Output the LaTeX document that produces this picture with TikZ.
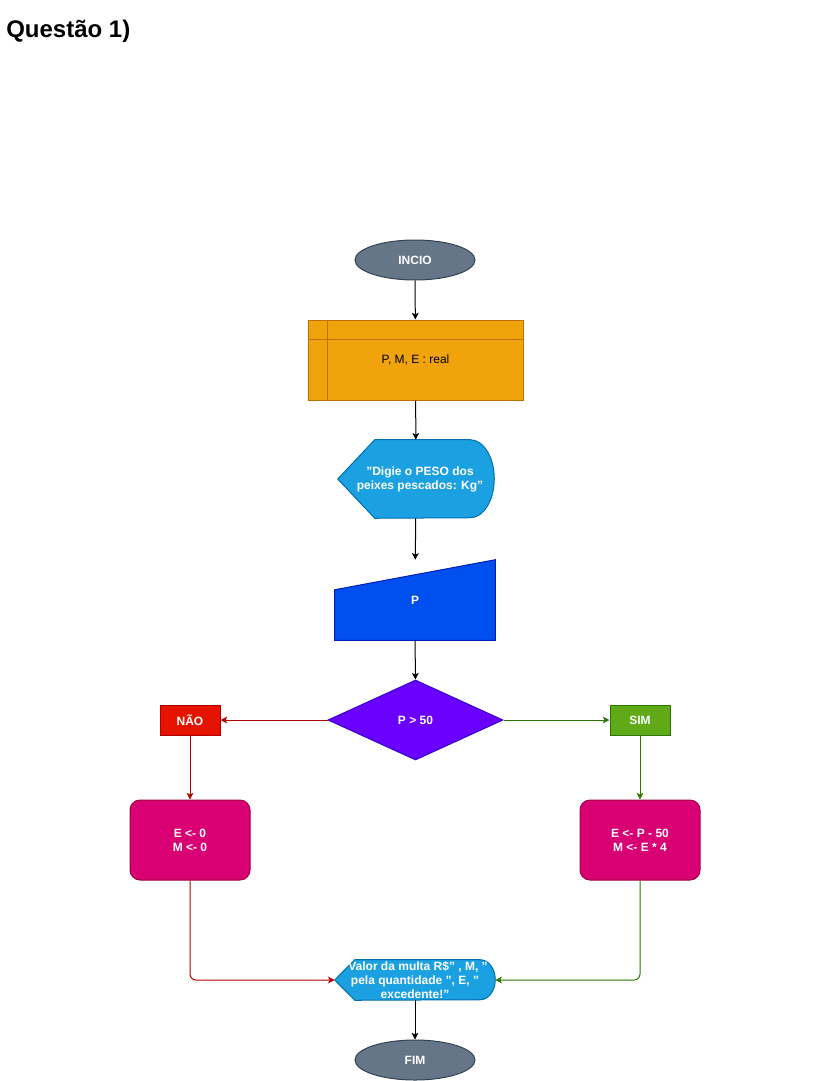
\documentclass[tikz,border=0pt]{standalone}
\usepackage{fontspec}
\setmainfont{Liberation Sans}
\usepackage{xcolor}
\usetikzlibrary{positioning, arrows.meta, shapes.geometric}

\definecolor{termfill}{HTML}{647687}
\definecolor{termline}{HTML}{314354}
\definecolor{declfill}{HTML}{F0A30A}
\definecolor{declline}{HTML}{BD7000}
\definecolor{showfill}{HTML}{1BA1E2}
\definecolor{showline}{HTML}{006EAF}
\definecolor{readfill}{HTML}{0050EF}
\definecolor{readline}{HTML}{001DBC}
\definecolor{testfill}{HTML}{6A00FF}
\definecolor{testline}{HTML}{3700CC}
\definecolor{naofill}{HTML}{E51400}
\definecolor{naoline}{HTML}{B20000}
\definecolor{simfill}{HTML}{60A917}
\definecolor{simline}{HTML}{2D7600}
\definecolor{calcfill}{HTML}{D80073}
\definecolor{calcline}{HTML}{A50040}

\newcommand{\pxu}{0.75pt}

\tikzset{
  lbl/.style={font=\fontsize{9}{10.5}\selectfont\bfseries, text=white, align=center},
  term/.style={ellipse, draw=termline, fill=termfill, line width=\pxu,
    minimum width=120*\pxu, minimum height=40*\pxu, inner sep=0pt, lbl},
  frame/.style={rectangle, minimum width=#1, inner sep=0pt},
  tag/.style={rectangle, line width=\pxu, minimum width=60*\pxu,
    minimum height=30*\pxu, inner sep=0pt, lbl},
  calc/.style={rectangle, rounded corners=10*\pxu, draw=calcline, fill=calcfill,
    line width=\pxu, minimum width=120*\pxu, minimum height=80*\pxu, lbl},
  flow/.style={-{Stealth[length=5pt, width=5pt, inset=1.2pt]}, line width=\pxu}
}

\begin{document}
\begin{tikzpicture}[x=0.75pt, y=-0.75pt]
  \useasboundingbox (0,0) rectangle (821,1081);

  % ── Title ──
  \node[anchor=base west, inner sep=0pt, font=\fontsize{18}{20}\selectfont\bfseries]
    (title) at (6,37.5) {Questão 1)};

  % ── Start ──
  \node[term] (inicio) at (415,260) {INCIO};

  % ── Variables (internal storage) ──
  \node[rectangle, draw=declline, fill=declfill, line width=\pxu,
    minimum width=215*\pxu, minimum height=80*\pxu, inner sep=0pt,
    font=\fontsize{9}{10.5}\selectfont] (vars) at (415.5,360) {P, M, E : real};
  \draw[declline, line width=\pxu] ([xshift=20*\pxu]vars.north west)
    -- ([xshift=20*\pxu]vars.south west);
  \draw[declline, line width=\pxu] ([yshift=-20*\pxu]vars.north west)
    -- ([yshift=-20*\pxu]vars.north east);

  % ── Prompt (display) ──
  \node[frame=156*\pxu, minimum height=78*\pxu] (ask) at (416,479) {};
  \filldraw[fill=showfill, draw=showline, line width=\pxu]
    (ask.west) -- ([xshift=37*\pxu]ask.north west)
    -- ([xshift=-24*\pxu]ask.north east)
    arc[start angle=90, end angle=-90, x radius=24*\pxu, y radius=39*\pxu]
    -- ([xshift=37*\pxu]ask.south west) -- cycle;
  \node[lbl] (ask-text) at (420,479) {"Digie o PESO dos\\peixes pescados: Kg"};

  % ── Read P (manual input) ──
  \node[frame=160*\pxu, minimum height=80*\pxu] (readp) at (415,600) {};
  \filldraw[fill=readfill, draw=readline, line width=\pxu]
    ([yshift=-30*\pxu]readp.north west) -- (readp.north east)
    -- (readp.south east) -- (readp.south west) -- cycle;
  \node[lbl] (readp-text) at (415,600) {P};

  % ── Decision ──
  \node[diamond, aspect=2.1875, draw=testline, fill=testfill, line width=\pxu,
    minimum width=175*\pxu, minimum height=80*\pxu, inner sep=0pt, lbl]
    (test) at (415.5,720) {P > 50};

  \node[tag, draw=naoline, fill=naofill] (nao) at (190,720) {NÃO};
  \node[tag, draw=simline, fill=simfill] (sim) at (640,720) {SIM};

  % ── Assignments ──
  \node[calc] (calcn) at (190,840) {E <- 0\\M <- 0};
  \node[calc] (calcs) at (640,840) {E <- P - 50\\M <- E * 4};

  % ── Result (display) ──
  \node[frame=160*\pxu, minimum height=40*\pxu] (out) at (415,980) {};
  \filldraw[fill=showfill, draw=showline, line width=\pxu]
    (out.west) -- ([xshift=20*\pxu]out.north west)
    -- ([xshift=-15*\pxu]out.north east)
    arc[start angle=90, end angle=-90, x radius=15*\pxu, y radius=20*\pxu]
    -- ([xshift=20*\pxu]out.south west) -- cycle;
  \node[lbl] (out-text) at (415,980)
    {"Valor da multa R\$" , M, "\\pela quantidade ", E, "\\excedente!"};

  % ── End ──
  \node[term] (fim) at (415,1060) {FIM};

  % ── Connectors ──
  \draw[flow] (inicio) -- (vars);
  \draw[flow] (vars) -- (ask);
  \draw[flow] (ask) -- (readp);
  \draw[flow] (readp) -- (test);
  \draw[flow, naoline] (test) -- (nao);
  \draw[flow, simline] (test) -- (sim);
  \draw[flow, naoline] (nao) -- (calcn);
  \draw[flow, simline] (sim) -- (calcs);
  \draw[flow, naoline, rounded corners=6*\pxu] (calcn.south) |- (out.west);
  \draw[flow, simline, rounded corners=6*\pxu] (calcs.south) |- (out.east);
  \draw[flow] (out) -- (fim);
\end{tikzpicture}
\end{document}
